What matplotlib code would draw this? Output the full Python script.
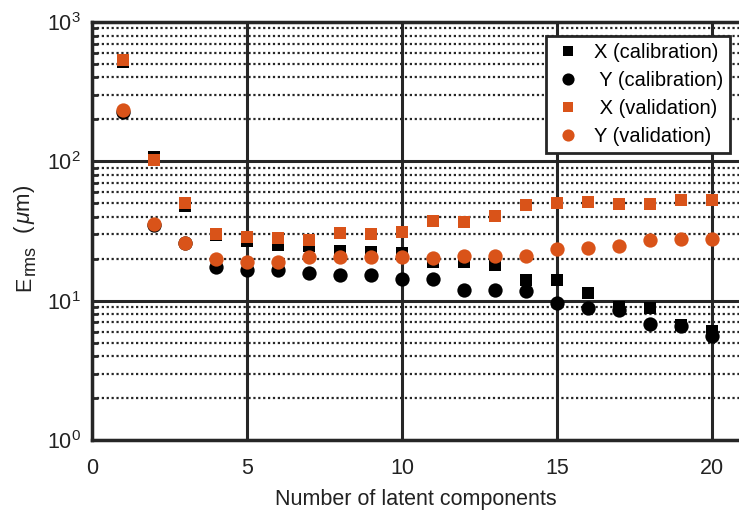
import matplotlib
matplotlib.use("Agg")
import matplotlib.pyplot as plt
from matplotlib.ticker import LogLocator, NullFormatter, FixedLocator

plt.rcParams["font.family"] = ["Liberation Sans", "DejaVu Sans"]
plt.rcParams["mathtext.fontset"] = "custom"
plt.rcParams["mathtext.rm"] = "Liberation Sans"
plt.rcParams["mathtext.it"] = "Liberation Sans:italic"
plt.rcParams["mathtext.default"] = "regular"

# Number of latent components
n_comp = list(range(1, 21))

# RMS error (um) for each number of components
x_cal = [520, 108, 47.5, 29.5, 26.7, 25.1, 24.7, 22.9, 22.3, 22.0,
         19.1, 19.0, 17.9, 14.1, 14.1, 11.4, 9.0, 8.8, 6.7, 6.1]
y_cal = [225, 35, 26, 17.4, 16.5, 16.7, 15.85, 15.3, 15.3, 14.4,
         14.4, 11.9, 11.9, 11.7, 9.7, 8.8, 8.6, 6.8, 6.6, 5.6]
x_val = [531, 103, 50.5, 30.1, 28.8, 28.2, 27.3, 30.7, 30.2, 31.3,
         37.0, 36.5, 40.5, 48.5, 49.9, 51.2, 49.3, 49.3, 52.9, 52.9]
y_val = [235, 35.5, 26, 20.0, 19.1, 18.9, 20.5, 20.5, 20.5, 20.5,
         20.2, 20.9, 20.9, 20.9, 23.5, 23.9, 24.8, 27.4, 27.7, 27.7]

labels = ["X (calibration)", " Y (calibration)", " X (validation)", "Y (validation)"]
x_ticks = [0, 5, 10, 15, 20]

orange = "#D95319"
dark = "#262626"
text_col = "#222222"

W, H = 739, 515
fig = plt.figure(figsize=(W / 100, H / 100), dpi=100)
ax = fig.add_axes([92 / W, 1 - 440 / H, (W - 92) / W, 418 / H])

ax.set_yscale("log")
ax.set_ylim(1, 1000)
ax.set_xlim(0, (W - 92) / 31.0)

# grid: solid major lines, dotted minor lines on the log axis
ax.set_axisbelow(True)
ax.xaxis.set_major_locator(FixedLocator(x_ticks))
ax.yaxis.set_major_locator(LogLocator(base=10, numticks=10))
ax.yaxis.set_minor_locator(LogLocator(base=10, subs=range(2, 10), numticks=10))
ax.yaxis.set_minor_formatter(NullFormatter())
ax.grid(True, which="major", axis="both", color=dark, linewidth=2.2, linestyle="-")
ax.grid(True, which="minor", axis="y", color=dark, linewidth=1.6, linestyle=(0, (1, 1.2)))

ax.plot(n_comp, x_cal, "s", color="black", markersize=8, markeredgewidth=0, label=labels[0])
ax.plot(n_comp, y_cal, "o", color="black", markersize=10.3, markeredgewidth=0, label=labels[1])
ax.plot(n_comp, x_val, "s", color=orange, markersize=8, markeredgewidth=0, label=labels[2])
ax.plot(n_comp, y_val, "o", color=orange, markersize=10.3, markeredgewidth=0, label=labels[3])

for side in ["left", "top", "bottom"]:
    ax.spines[side].set_linewidth(2.5)
    ax.spines[side].set_color(dark)
ax.spines["right"].set_visible(False)

ax.tick_params(axis="both", which="major", labelsize=15.5, length=0, colors=text_col)
ax.tick_params(axis="x", which="major", pad=13)
ax.tick_params(axis="y", which="major", pad=8)
ax.tick_params(axis="y", which="minor", length=4, width=2, direction="in", color=dark)

ax.set_xlabel("Number of latent components", fontsize=15.5, color=text_col, labelpad=7)

# y-axis label assembled from pieces: E, subscript "rms", then the unit
def fig_text(px, py, s, size):
    fig.text(px / W, 1 - py / H, s, fontsize=size, color=text_col, rotation=90,
             rotation_mode="anchor", ha="left", va="baseline")

fig_text(30, 291, "E", 15.5)
fig_text(35, 275, "rms", 13)
fig_text(30, 234, r"($\,\mathit{\mu}$m)", 16)

leg = ax.legend(loc="upper right", bbox_to_anchor=(730 / W, 1 - 36 / H),
                bbox_transform=fig.transFigure, fontsize=14.5, frameon=True,
                fancybox=False, edgecolor=dark, borderaxespad=0,
                handlelength=1.4, handletextpad=0.6, labelspacing=0.45,
                borderpad=0.35, markerscale=0.85)
leg.get_frame().set_linewidth(2.0)
leg.get_frame().set_facecolor("white")
leg.get_frame().set_alpha(1)

fig.savefig("out.png", dpi=100)
